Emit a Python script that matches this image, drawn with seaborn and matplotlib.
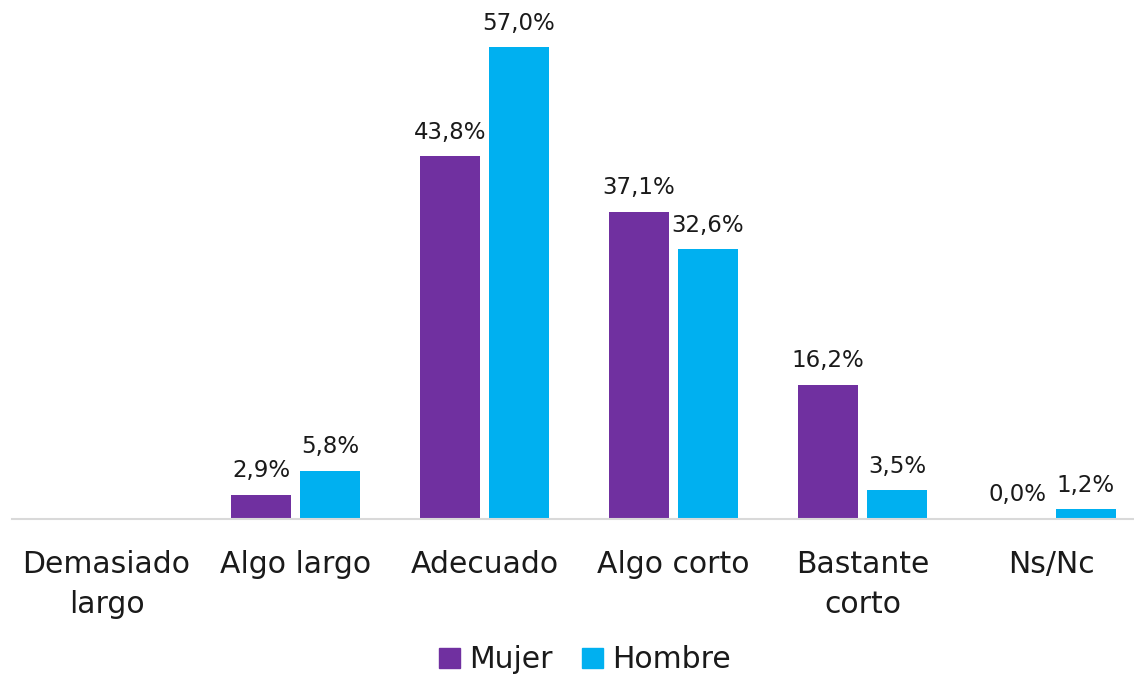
import numpy as np
import pandas as pd
import matplotlib
matplotlib.use("Agg")
import matplotlib.pyplot as plt
import seaborn as sns

# ─── DATOS ─────────────────────────────────────────────
categories = ["Demasiado\nlargo", "Algo largo", "Adecuado", "Algo corto",
              "Bastante\ncorto", "Ns/Nc"]
mujer = [np.nan, 2.9, 43.8, 37.1, 16.2, 0.0]
hombre = [np.nan, 5.8, 57.0, 32.6, 3.5, 1.2]
series = ["Mujer", "Hombre"]
colors = ["#7030A0", "#00B0F0"]

df = pd.DataFrame({
    "cat": categories * 2,
    "serie": [series[0]] * len(categories) + [series[1]] * len(categories),
    "valor": mujer + hombre,
})

sns.set_style("white")
plt.rcParams["font.family"] = ["DejaVu Sans"]

fig = plt.figure(figsize=(11.34, 6.77), dpi=100)
ax = fig.add_axes([12 / 1134, (677 - 519) / 677, 1122 / 1134, 519 / 677])

sns.barplot(data=df, x="cat", y="valor", hue="serie", order=categories,
            hue_order=series, palette=colors, width=0.73, gap=0.13,
            saturation=1, linewidth=0, ax=ax, legend=False)

# etiquetas de datos
for cont in ax.containers:
    labels = [f"{v:.1f}%".replace(".", ",") for v in cont.datavalues]
    ax.bar_label(cont, labels=labels, padding=9, fontsize=16.5, color="#1a1a1a")

ax.set_xlim(-0.5, 1122 / 189 - 0.5)
ax.set_ylim(0, 519 / 8.28)
ax.set_xlabel("")
ax.set_ylabel("")
ax.set_yticks([])
for s in ["top", "right", "left"]:
    ax.spines[s].set_visible(False)
ax.spines["bottom"].set_color("#D9D9D9")
ax.spines["bottom"].set_linewidth(1.5)
ax.tick_params(axis="x", length=0, pad=22.5, labelsize=21.5, colors="#1a1a1a")
for t in ax.get_xticklabels():
    t.set_linespacing(1.45)

handles = [plt.Rectangle((0, 0), 1, 1, color=c) for c in colors]
fig.legend(handles, series, loc="lower center", bbox_to_anchor=(0.516, -0.036),
           ncol=2, frameon=False, fontsize=21.5, handlelength=0.7, handleheight=0.7,
           handletextpad=0.3, columnspacing=1.0, labelcolor="#1a1a1a")

fig.savefig("out.png", dpi=100)
